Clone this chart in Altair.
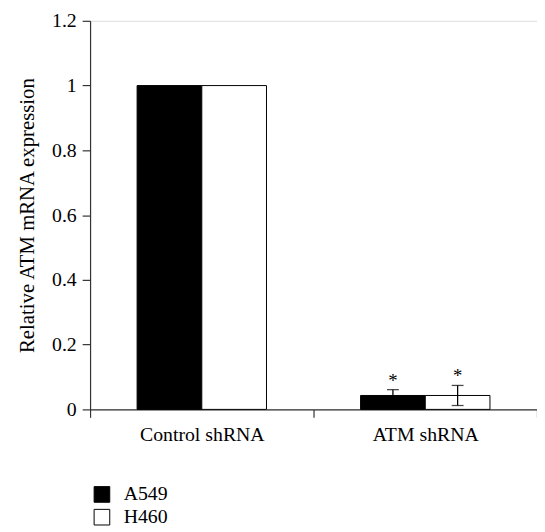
import altair as alt
import pandas as pd

groups = ["Control shRNA", "Control shRNA", "ATM shRNA", "ATM shRNA"]
cells = ["A549", "H460", "A549", "H460"]
values = [1.0, 1.0, 0.043, 0.043]
errors = [0.0, 0.0, 0.018, 0.031]
stars = ["", "", "*", "*"]
group_order = ["Control shRNA", "ATM shRNA"]
cell_order = ["A549", "H460"]
y_ticks = [0, 0.2, 0.4, 0.6, 0.8, 1.0, 1.2]

df = pd.DataFrame({"group": groups, "cell": cells, "value": values, "err": errors, "star": stars})
df["lo"] = df["value"] - df["err"]
df["hi"] = df["value"] + df["err"]

FONT = "Liberation Serif"

x_enc = alt.X("group:N", sort=group_order, title=None,
              scale=alt.Scale(paddingInner=0, paddingOuter=0),
              axis=alt.Axis(tickBand="extent", labelAngle=0, tickSize=8, labelPadding=7))
xo_enc = alt.XOffset("cell:N", sort=cell_order,
                     scale=alt.Scale(paddingInner=0, paddingOuter=0.727))

base = alt.Chart(df)

bars = base.mark_bar(stroke="black", strokeWidth=1).encode(
    x=x_enc,
    xOffset=xo_enc,
    y=alt.Y("value:Q", title="Relative ATM mRNA expression",
            scale=alt.Scale(domain=[0, 1.2], nice=False, zero=True),
            axis=alt.Axis(values=y_ticks, format="~g", tickSize=8,
                          labelPadding=6, titlePadding=14)),
    fill=alt.Fill("cell:N", sort=cell_order,
                  scale=alt.Scale(domain=cell_order, range=["black", "white"]),
                  legend=alt.Legend(title=None, orient="none", legendX=2, legendY=469,
                                    symbolType="square", symbolSize=250, symbolStrokeColor="black",
                                    symbolStrokeWidth=1, rowPadding=3, labelOffset=12)),
)

err_filter = alt.datum.err > 0
xs = alt.X("group:N", sort=group_order)
xos = alt.XOffset("cell:N", sort=cell_order)

rules = base.mark_rule(color="black", strokeWidth=1.3).encode(
    x=xs, xOffset=xos, y="lo:Q", y2="hi:Q",
).transform_filter(err_filter)

caps_hi = base.mark_tick(color="black", size=12, thickness=1.3).encode(
    x=xs, xOffset=xos, y="hi:Q",
).transform_filter(err_filter)

caps_lo = base.mark_tick(color="black", size=12, thickness=1.3).encode(
    x=xs, xOffset=xos, y="lo:Q",
).transform_filter(err_filter)

star_text = base.mark_text(font=FONT, fontSize=19, baseline="bottom", dy=1, color="black").encode(
    x=xs, xOffset=xos, y="hi:Q", text="star:N",
)

chart = alt.layer(bars, rules, caps_hi, caps_lo, star_text).properties(
    width=452, height=393,
    autosize=alt.AutoSizeParams(type="none"),
    padding={"left": 83, "top": 10, "right": 0, "bottom": 118},
).configure_view(stroke=None).configure(background="white").configure_axis(
    grid=False, labelFont=FONT, labelFontSize=20, labelColor="black",
    titleFont=FONT, titleFontSize=21, titleFontWeight="normal", titleColor="black",
    domainColor="#333", tickColor="#333", domainWidth=1.2, tickWidth=1.2,
).configure_legend(
    labelFont=FONT, labelFontSize=20, labelColor="black",
)

chart.save("out.html", embed_options={"renderer": "svg", "actions": False})
